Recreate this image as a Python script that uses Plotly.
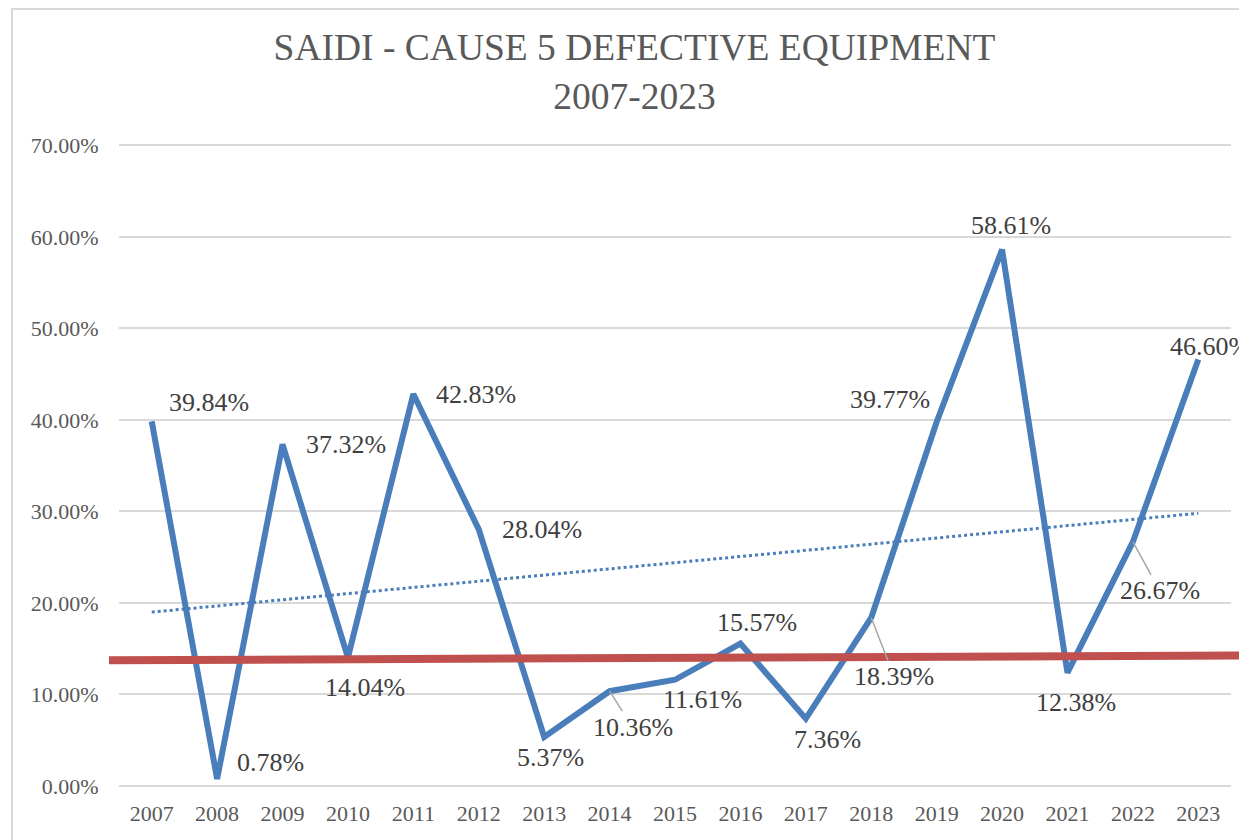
import plotly.graph_objects as go

# 數據
years = [str(y) for y in range(2007, 2024)]
saidi_pct = [39.84, 0.78, 37.32, 14.04, 42.83, 28.04, 5.37, 10.36, 11.61,
             15.57, 7.36, 18.39, 39.77, 58.61, 12.38, 26.67, 46.60]
trend_years = ["2007", "2023"]
trend_pct = [19.0, 29.8]          # 趨勢線兩端
red_line_pct = [13.74, 14.25]     # 紅色參考線兩端
y_ticks = [0, 10, 20, 30, 40, 50, 60, 70]

# 標籤偏移 (dx, dy 像素) 與是否畫引導線
label_offsets = [(57, -19, False), (53, -16, False), (63, 0, False), (17, 30, False),
                 (63, 0, False), (63, 0, False), (6, 21, False), (23, 36, True),
                 (27, 20, False), (17, -21, False), (22, 21, False), (23, 59, True),
                 (-47, -23, False), (9, -24, False), (9, 30, False), (27, 49, True),
                 (12, -13, False)]

blue = "#4a7ebb"
red = "#c0504d"
grid = "#d9d9d9"
serif = "Liberation Serif, Times New Roman, serif"

# 頁面 body 預設有 8px 邊距，座標以頁面像素換算
OFF = 8
W, H = 1247 - OFF, 840 - OFF
L, T = 119 - OFF, 144 - OFF
R, B = W - (1231 - OFF), H - (786 - OFF)


def px_x(p):
    return (p - OFF - L) / (W - L - R)


def px_y(p):
    return (H - B - (p - OFF)) / (H - T - B)


fig = go.Figure()
fig.add_trace(go.Scatter(
    x=years, y=saidi_pct, mode="lines",
    line=dict(color=blue, width=6),
    hoverinfo="skip", showlegend=False
))
fig.add_trace(go.Scatter(
    x=trend_years, y=trend_pct, mode="lines",
    line=dict(color=blue, width=3, dash="dot"),
    hoverinfo="skip", showlegend=False
))

for i, (v, (dx, dy, lead)) in enumerate(zip(saidi_pct, label_offsets)):
    text = f"{v:.2f}%"
    if lead:
        fig.add_annotation(
            x=i, y=v, xref="x", yref="y", text=text, showarrow=True,
            ax=dx, ay=dy, axref="pixel", ayref="pixel",
            arrowhead=0, arrowwidth=1.5, arrowcolor="#a6a6a6", standoff=0,
            font=dict(family=serif, size=26, color="#404040")
        )
    else:
        fig.add_annotation(
            x=i, y=v, xref="x", yref="y", text=text, showarrow=False,
            xshift=dx, yshift=-dy,
            font=dict(family=serif, size=26, color="#404040")
        )

fig.update_layout(
    width=W, height=H,
    margin=dict(l=L, r=R, t=T, b=B),
    paper_bgcolor="white", plot_bgcolor="white",
    font=dict(family=serif, color="#595959"),
    title=dict(
        text="SAIDI - CAUSE 5 DEFECTIVE EQUIPMENT<br>2007-2023",
        x=(634.5 - OFF) / W, xref="container", xanchor="center",
        y=1 - 52 / H, yref="container", yanchor="top",
        font=dict(family=serif, size=37.5, color="#595959")
    ),
    xaxis=dict(
        type="category", range=[-0.5, 16.5],
        showgrid=False, zeroline=False, showline=False,
        ticks="outside", ticklen=8, tickcolor="rgba(0,0,0,0)",
        tickfont=dict(family=serif, size=22, color="#595959")
    ),
    yaxis=dict(
        range=[0, 70.15], tickvals=y_ticks,
        ticktext=[f"{t:.2f}%" for t in y_ticks],
        showgrid=True, gridcolor=grid, gridwidth=2,
        zeroline=True, zerolinecolor=grid, zerolinewidth=2,
        ticks="outside", ticklen=15, tickcolor="rgba(0,0,0,0)",
        tickfont=dict(family=serif, size=22, color="#595959")
    ),
    shapes=[
        # 外框
        dict(type="rect", xref="paper", yref="paper",
             x0=px_x(12), x1=px_x(1280), y0=px_y(880), y1=px_y(9),
             line=dict(color=grid, width=2), layer="below"),
        # 紅色參考線
        dict(type="line", xref="paper", yref="y",
             x0=px_x(109), x1=px_x(1247), y0=red_line_pct[0], y1=red_line_pct[1],
             line=dict(color=red, width=8), layer="above"),
    ],
)

fig.write_html("out.html")
